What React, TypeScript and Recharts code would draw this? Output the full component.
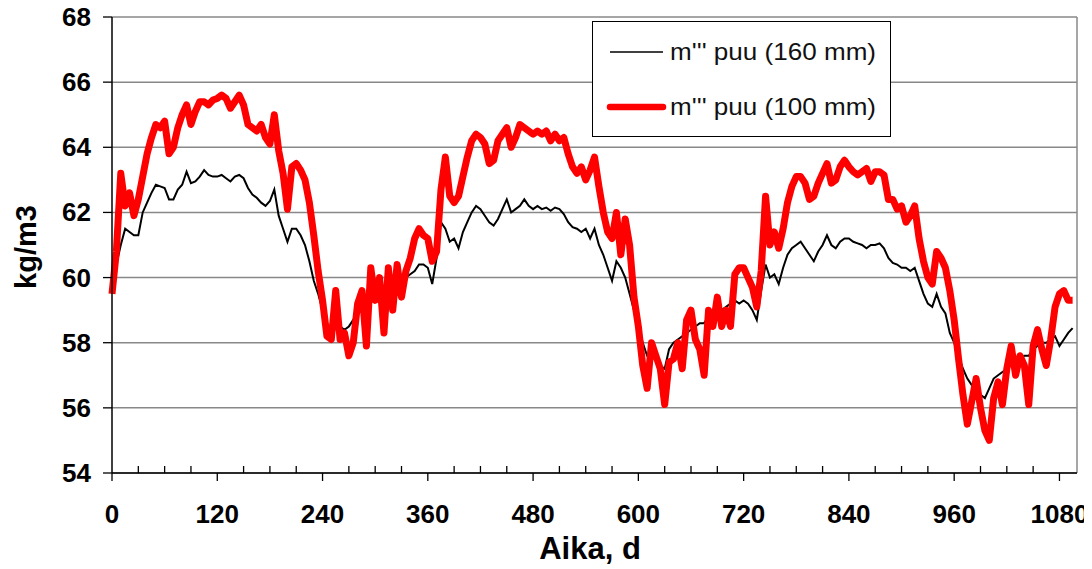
import React from "react";
import { LineChart, Line, XAxis, YAxis, CartesianGrid, ReferenceLine, Label } from "recharts";

// one sample every 5 days, day 0 .. 1095
const STEP = 5;

// m''' puu (160 mm), kg/m3
const puu160: number[] = [
  59.5, 60.4, 61.0, 61.5, 61.4, 61.3, // d0
  61.3, 62.0, 62.3, 62.6, 62.85, 62.8, // d30
  62.75, 62.4, 62.4, 62.7, 62.85, 63.25, // d60
  62.9, 62.95, 63.1, 63.3, 63.15, 63.1, // d90
  63.1, 63.15, 63.05, 62.95, 63.1, 63.15, // d120
  63.05, 62.75, 62.55, 62.45, 62.3, 62.2, // d150
  62.35, 62.7, 61.9, 61.5, 61.1, 61.5, // d180
  61.5, 61.3, 61.0, 60.5, 59.9, 59.5, // d210
  59.0, 58.6, 58.4, 58.6, 58.5, 58.4, // d240
  58.5, 58.7, 58.9, 59.0, 59.1, 59.3, // d270
  59.3, 59.5, 59.4, 59.6, 59.7, 59.9, // d300
  59.8, 60.0, 60.1, 60.2, 60.4, 60.4, // d330
  60.3, 59.8, 60.6, 61.7, 61.5, 61.1, // d360
  61.2, 60.9, 61.4, 61.7, 62.0, 62.2, // d390
  62.1, 61.9, 61.7, 61.6, 61.8, 62.1, // d420
  62.4, 62.0, 62.1, 62.2, 62.4, 62.2, // d450
  62.1, 62.2, 62.1, 62.15, 62.05, 62.15, // d480
  62.1, 61.95, 61.7, 61.55, 61.5, 61.4, // d510
  61.5, 61.2, 61.5, 61.0, 60.7, 60.3, // d540
  59.9, 60.5, 60.3, 60.0, 59.5, 59.0, // d570
  58.5, 58.0, 57.6, 57.6, 57.5, 57.3, // d600
  57.2, 57.8, 58.0, 58.1, 58.2, 58.3, // d630
  58.4, 58.5, 58.6, 58.6, 58.8, 58.9, // d660
  59.0, 59.0, 59.1, 59.2, 59.3, 59.2, // d690
  59.3, 59.2, 59.0, 58.7, 59.6, 60.4, // d720
  60.0, 60.1, 59.8, 60.3, 60.7, 60.9, // d750
  61.0, 61.1, 60.9, 60.7, 60.5, 60.8, // d780
  61.0, 61.3, 61.0, 60.9, 61.1, 61.2, // d810
  61.2, 61.1, 61.05, 61.0, 60.9, 61.0, // d840
  61.0, 61.05, 60.9, 60.6, 60.45, 60.4, // d870
  60.3, 60.3, 60.2, 60.3, 59.9, 59.5, // d900
  59.2, 59.1, 59.5, 59.1, 58.9, 58.3, // d930
  58.0, 57.6, 57.2, 56.9, 56.7, 56.6, // d960
  56.4, 56.3, 56.6, 56.9, 57.0, 57.1, // d990
  57.2, 57.4, 57.5, 57.5, 57.6, 57.6, // d1020
  57.8, 57.9, 58.0, 58.0, 58.1, 58.2, // d1050
  57.9, 58.1, 58.3, 58.45, // d1080
];

// m''' puu (100 mm), kg/m3
const puu100: number[] = [
  59.5, 60.8, 63.2, 62.2, 62.6, 61.9, // d0
  62.4, 63.1, 63.8, 64.3, 64.7, 64.6, // d30
  64.8, 63.8, 64.0, 64.6, 65.0, 65.3, // d60
  64.7, 65.1, 65.4, 65.4, 65.3, 65.45, // d90
  65.5, 65.6, 65.5, 65.2, 65.4, 65.6, // d120
  65.3, 64.7, 64.6, 64.5, 64.7, 64.3, // d150
  64.1, 65.0, 63.9, 63.2, 62.1, 63.4, // d180
  63.5, 63.3, 63.0, 62.3, 61.3, 60.2, // d210
  59.3, 58.2, 58.1, 59.6, 58.1, 58.3, // d240
  57.6, 58.0, 59.2, 59.6, 57.9, 60.3, // d270
  59.3, 60.0, 58.3, 60.3, 59.0, 60.4, // d300
  59.4, 60.2, 60.6, 61.2, 61.5, 61.3, // d330
  61.2, 60.5, 60.8, 62.7, 63.7, 62.5, // d360
  62.3, 62.5, 63.1, 63.7, 64.2, 64.4, // d390
  64.3, 64.1, 63.5, 63.6, 64.2, 64.4, // d420
  64.6, 64.0, 64.3, 64.7, 64.6, 64.5, // d450
  64.4, 64.5, 64.4, 64.5, 64.2, 64.4, // d480
  64.2, 64.3, 63.8, 63.4, 63.2, 63.4, // d510
  63.0, 63.3, 63.7, 62.8, 62.0, 61.4, // d540
  61.2, 62.0, 60.7, 61.8, 61.0, 59.4, // d570
  58.5, 57.3, 56.6, 58.0, 57.6, 57.2, // d600
  56.1, 57.4, 57.5, 58.0, 57.2, 58.7, // d630
  59.0, 58.1, 57.8, 57.0, 59.0, 58.5, // d660
  59.4, 58.5, 59.0, 58.5, 60.1, 60.3, // d690
  60.3, 60.0, 59.7, 59.1, 60.2, 62.5, // d720
  61.0, 61.4, 60.9, 61.5, 62.3, 62.8, // d750
  63.1, 63.1, 62.9, 62.4, 62.5, 62.9, // d780
  63.2, 63.5, 62.9, 63.0, 63.4, 63.6, // d810
  63.4, 63.25, 63.15, 63.25, 63.35, 62.95, // d840
  63.25, 63.25, 63.15, 62.4, 62.4, 62.1, // d870
  62.2, 61.7, 61.9, 62.2, 61.2, 60.5, // d900
  60.0, 59.8, 60.8, 60.6, 60.3, 59.6, // d930
  58.7, 57.5, 56.4, 55.5, 56.2, 56.9, // d960
  56.0, 55.3, 55.0, 56.3, 56.8, 56.1, // d990
  57.2, 57.9, 57.0, 57.6, 57.3, 56.1, // d1020
  57.9, 58.4, 57.8, 57.3, 58.1, 59.1, // d1050
  59.5, 59.6, 59.3, 59.3, // d1080
];

const xTicks = Array.from({ length: 37 }, (_, i) => i * 30); // marks every 30 d, labels every 120
const yTicks = [54, 56, 58, 60, 62, 64, 66, 68];

const data = puu100.map((v, i) => ({ day: i * STEP, thin: puu160[i], thick: v }));

const FONT = "'Liberation Sans', Arial, Helvetica, sans-serif";

function DayTick({ x, y, payload }: any) {
  const major = payload.value % 120 === 0;
  return (
    <g>
      {major ? (
        <line x1={x} x2={x} y1={y} y2={y + 8} stroke="#000" strokeWidth={1.3} />
      ) : (
        <line x1={x} x2={x} y1={y - 7} y2={y} stroke="#000" strokeWidth={1.3} />
      )}
      {major && (
        <text x={x} y={y + 50} textAnchor="middle" fontFamily={FONT} fontWeight="bold" fontSize={26} fill="#000">
          {payload.value}
        </text>
      )}
    </g>
  );
}

function ValueTick({ x, y, payload }: any) {
  return (
    <g>
      <line x1={x - 9} x2={x} y1={y} y2={y} stroke="#000" strokeWidth={1.3} />
      <text x={x - 21} y={y + 9} textAnchor="end" fontFamily={FONT} fontWeight="bold" fontSize={26} fill="#000">
        {payload.value}
      </text>
    </g>
  );
}

function LegendBox() {
  return (
    <svg
      width={300}
      height={117}
      style={{ position: "absolute", left: 584, top: 13 }}
    >
      <rect x={0.5} y={0.5} width={298} height={115} fill="#fff" stroke="#000" strokeWidth={1} />
      <line x1={18} x2={71} y1={31} y2={31} stroke="#000" strokeWidth={1.5} />
      <text x={78} y={39} fontFamily={FONT} fontSize={24} fill="#111" textLength={206} lengthAdjust="spacingAndGlyphs">
        m''' puu (160 mm)
      </text>
      <line x1={18} x2={71} y1={86} y2={86} stroke="#ff0000" strokeWidth={6.5} strokeLinecap="round" />
      <text x={78} y={94} fontFamily={FONT} fontSize={24} fill="#111" textLength={206} lengthAdjust="spacingAndGlyphs">
        m''' puu (100 mm)
      </text>
    </svg>
  );
}

export default function App() {
  return (
    <div style={{ position: "relative", width: 1084, height: 561 }}>
      <LineChart width={1084} height={561} data={data} margin={{ top: 9, right: 15, bottom: 0, left: 0 }}>
        <CartesianGrid horizontal vertical={false} stroke="#888" strokeWidth={1.5} />
        <XAxis
          dataKey="day"
          type="number"
          domain={[0, 1100]}
          ticks={xTicks}
          interval={0}
          height={96}
          tickSize={0}
          tickMargin={0}
          tickLine={false}
          tick={DayTick}
          axisLine={{ stroke: "#000", strokeWidth: 1.5 }}
        >
          <Label
            content={() => (
              <text x={582} y={551} textAnchor="middle" fontFamily={FONT} fontWeight="bold" fontSize={31} fill="#000">
                Aika, d
              </text>
            )}
          />
        </XAxis>
        <YAxis
          type="number"
          domain={[54, 68]}
          ticks={yTicks}
          interval={0}
          width={104}
          tickSize={0}
          tickMargin={0}
          tickLine={false}
          tick={ValueTick}
          axisLine={{ stroke: "#000", strokeWidth: 1.5 }}
        >
          <Label
            content={() => (
              <text
                x={28}
                y={239}
                transform="rotate(-90 28 239)"
                textAnchor="middle"
                fontFamily={FONT}
                fontWeight="bold"
                fontSize={29}
                fill="#000"
              >
                kg/m3
              </text>
            )}
          />
        </YAxis>
        <ReferenceLine x={1100} stroke="#888" strokeWidth={1.5} />
        <Line
          type="linear"
          dataKey="thin"
          stroke="#000"
          strokeWidth={2}
          dot={false}
          isAnimationActive={false}
        />
        <Line
          type="linear"
          dataKey="thick"
          stroke="#ff0000"
          strokeWidth={7}
          strokeLinejoin="round"
          dot={false}
          isAnimationActive={false}
        />
      </LineChart>
      <LegendBox />
    </div>
  );
}
